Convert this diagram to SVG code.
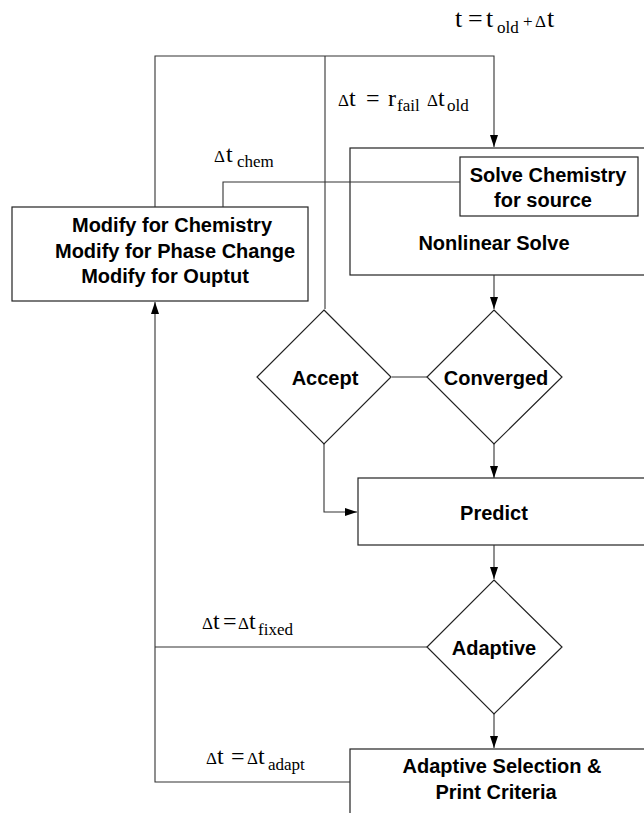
<svg xmlns="http://www.w3.org/2000/svg" width="644" height="813" viewBox="0 0 644 813">
<style>
.box{fill:#fff;stroke:#222;stroke-width:1.2}
.ln{fill:none;stroke:#333;stroke-width:1.1}
.lbl{font-family:"Liberation Sans",Arial,sans-serif;font-weight:bold;font-size:20px;fill:#000;text-anchor:middle}
.m{font-family:"Liberation Serif","Times New Roman",serif;font-size:24px;fill:#000}
.m1{font-size:26px}
.d{font-size:17px}
.s{font-size:17px}
</style>
<defs>
<marker id="ah" viewBox="0 0 12 8" refX="12" refY="4" markerWidth="12" markerHeight="8" markerUnits="userSpaceOnUse" orient="auto">
<path d="M0,0 L12,4 L0,8 Z" fill="#000"/>
</marker>
</defs>
<rect width="644" height="813" fill="#fff"/>
<g id="modify">
<rect class="box" x="12" y="207" width="296" height="94"/>
<text class="lbl"><tspan x="172" y="232">Modify for Chemistry</tspan><tspan x="175" y="258">Modify for Phase Change</tspan><tspan x="165" y="283">Modify for Ouptut</tspan></text>
</g>
<g id="nonlinear">
<rect class="box" x="350" y="148" width="320" height="127"/>
<text class="lbl" x="494" y="250">Nonlinear Solve</text>
</g>
<g id="chemistry">
<rect class="box" x="460" y="157" width="178" height="59"/>
<text class="lbl"><tspan x="548" y="182">Solve Chemistry</tspan><tspan x="543" y="207">for source</tspan></text>
</g>
<g id="accept">
<path class="box" d="M324,310 L391,377 L324,444 L257,377 Z"/>
<text class="lbl" x="325" y="385">Accept</text>
</g>
<g id="converged">
<path class="box" d="M494,310 L562,377 L494,444 L427,377 Z"/>
<text class="lbl" x="496" y="385">Converged</text>
</g>
<g id="predict">
<rect class="box" x="358" y="478" width="320" height="67"/>
<text class="lbl" x="494" y="520">Predict</text>
</g>
<g id="adaptive">
<path class="box" d="M494,580 L562,647 L494,714 L427,647 Z"/>
<text class="lbl" x="494" y="655">Adaptive</text>
</g>
<g id="selection">
<rect class="box" x="350" y="749" width="320" height="100"/>
<text class="lbl"><tspan x="502" y="773">Adaptive Selection &amp;</tspan><tspan x="496" y="799">Print Criteria</tspan></text>
</g>
<g id="connectors">
<path class="ln" d="M155,207 V56 H494 V147" marker-end="url(#ah)"/>
<path class="ln" d="M325,56 V309"/>
<path class="ln" d="M223,207 V182 H460"/>
<path class="ln" d="M494,275 V309" marker-end="url(#ah)"/>
<path class="ln" d="M392,377 H427"/>
<path class="ln" d="M494,444 V478" marker-end="url(#ah)"/>
<path class="ln" d="M324,444 V512 H357" marker-end="url(#ah)"/>
<path class="ln" d="M494,545 V579" marker-end="url(#ah)"/>
<path class="ln" d="M427,647 H155"/>
<path class="ln" d="M494,714 V748" marker-end="url(#ah)"/>
<path class="ln" d="M350,782 H155 V302" marker-end="url(#ah)"/>
</g>
<g id="label-t">
<text class="m m1"><tspan x="455" y="27">t</tspan><tspan x="468" y="27">=</tspan><tspan x="486" y="27">t</tspan><tspan class="s" x="497" y="33">old</tspan><tspan x="523" y="27" class="s">+</tspan><tspan class="d" x="535" y="27">Δ</tspan><tspan x="547" y="27">t</tspan></text>
</g>
<g id="label-fail">
<text class="m"><tspan class="d" x="338" y="106">Δ</tspan><tspan x="349" y="106">t</tspan><tspan x="366" y="106">=</tspan><tspan x="388" y="106">r</tspan><tspan class="s" x="397" y="111">fail</tspan><tspan class="d" x="427" y="106">Δ</tspan><tspan x="438" y="106">t</tspan><tspan class="s" x="447" y="111">old</tspan></text>
</g>
<g id="label-chem">
<text class="m"><tspan class="d" x="214" y="162">Δ</tspan><tspan x="226" y="162">t</tspan><tspan class="s" x="237" y="167">chem</tspan></text>
</g>
<g id="label-fixed">
<text class="m"><tspan class="d" x="202" y="629">Δ</tspan><tspan x="213" y="629">t</tspan><tspan x="223" y="629">=</tspan><tspan class="d" x="238" y="629">Δ</tspan><tspan x="249" y="629">t</tspan><tspan class="s" x="258" y="635">fixed</tspan></text>
</g>
<g id="label-adapt">
<text class="m"><tspan class="d" x="206" y="764">Δ</tspan><tspan x="217" y="764">t</tspan><tspan x="231" y="764">=</tspan><tspan class="d" x="247" y="764">Δ</tspan><tspan x="258" y="764">t</tspan><tspan class="s" x="268" y="770">adapt</tspan></text>
</g>
</svg>
